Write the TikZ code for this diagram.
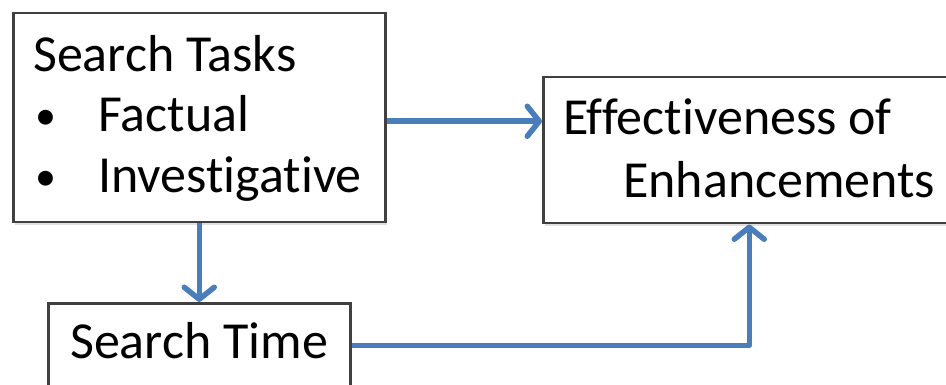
\documentclass[tikz,border=0pt]{standalone}
\usepackage{fontspec}
\setmainfont[Ligatures=CommonOff]{Carlito}
\usetikzlibrary{arrows.meta,calc}
\definecolor{arrblue}{RGB}{74,126,187}
\definecolor{boxgray}{RGB}{64,64,64}
\tikzset{
  box/.style={draw=boxgray, line width=2.5pt, fill=white, rectangle, inner sep=0pt, anchor=north west},
  shadowbox/.style={fill=black!12, rectangle, inner sep=0pt, anchor=north west},
  lbl/.style={inner sep=0pt, anchor=base west, font=\fontsize{52}{60}\selectfont, text=black},
  bul/.style={inner sep=0pt, anchor=base west, font=\fontsize{42}{50}\selectfont, text=black},
  arr/.style={draw=arrblue, line width=5.5pt, line join=round, -{Straight Barb[length=12pt,width=30pt,round]}}
}
\begin{document}
\begin{tikzpicture}[x=1pt,y=-1pt]
\useasboundingbox (0,0) rectangle (946,385);
\clip (0,0) rectangle (946,385);
% shadows
\node[shadowbox, minimum width=372pt, minimum height=209pt] (sts) at (15,16) {};
\node[shadowbox, minimum width=412pt, minimum height=146pt] (es) at (545,80) {};
\node[shadowbox, minimum width=302pt, minimum height=84pt] (tms) at (50,306) {};
% boxes
\node[box, minimum width=372pt, minimum height=209pt] (st) at (12,12) {};
\node[box, minimum width=412pt, minimum height=146pt] (e) at (542,76) {};
\node[box, minimum width=302pt, minimum height=84pt] (tm) at (47,302) {};
% texts
\node[lbl] (t1) at (33,72) {Search Tasks};
\node[bul] (b1) at (35,130) {\textbullet};
\node[lbl] (t2) at (98,132) {Factual};
\node[bul] (b2) at (35,191) {\textbullet};
\node[lbl] (t3) at (98,193) {Investigative};
\node[lbl] (t4) at (563,135) {Effectiveness of};
\node[lbl] (t5) at (623,197) {Enhancements};
\node[lbl] (t6) at (70,358) {Search Time};
% arrows
\draw[arr] ([yshift=-3.5pt]st.east) -- ([yshift=-3.5pt]st.east -| e.west);
\draw[arr] (st.south) -- (tm.north);
\draw[arr] (tm.east) -| (e.south);
\end{tikzpicture}
\end{document}
